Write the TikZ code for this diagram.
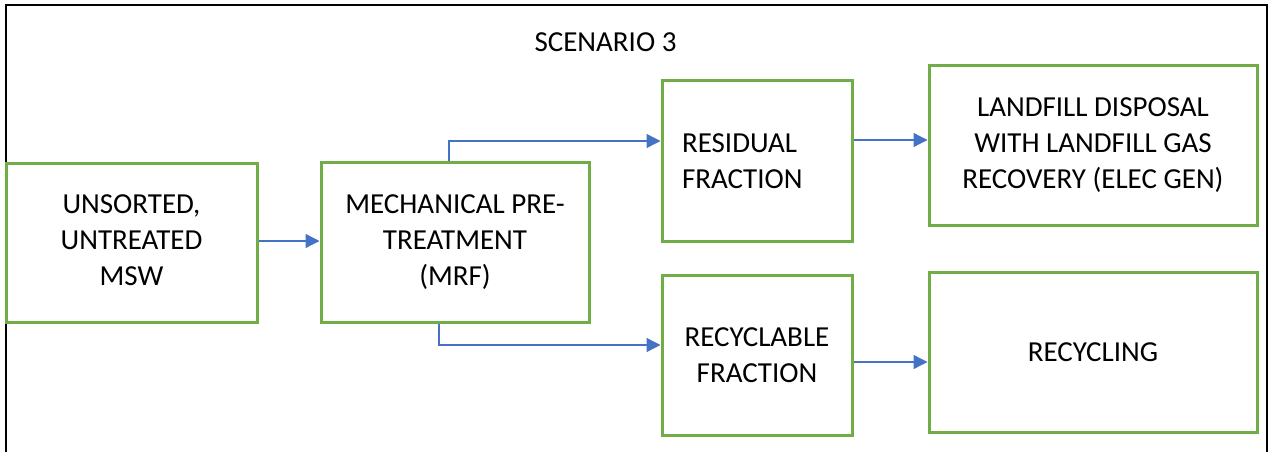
\documentclass[tikz,border=0pt]{standalone}
\usepackage{fontspec}
\setmainfont{Carlito}
\usetikzlibrary{arrows.meta}
\definecolor{boxgreen}{HTML}{70AD47}
\definecolor{flowblue}{HTML}{4472C4}
\tikzset{
  stagebox/.style={draw=boxgreen, line width=3pt, fill=white, inner sep=0pt,
    align=center, font=\fontsize{29}{36}\selectfont},
  flow/.style={draw=flowblue, line width=1.3pt,
    -{Triangle[length=14pt,width=14pt]}},
}
\begin{document}
\begin{tikzpicture}[x=1pt,y=-1pt]
  \useasboundingbox (0,0) rectangle (1270,452);
  \begin{scope}
    \clip (0,0) rectangle (1270,452);
    % outer frame, running past the lower edge
    \draw[line width=2.4pt, black] (6,470) -- (6,5) -- (1267,5) -- (1267,470);
  \end{scope}

  \node[anchor=base, font=\fontsize{29}{36}\selectfont] (title) at (605.5,52) {SCENARIO 3};

  \node[stagebox, minimum width=251pt, minimum height=159pt] (msw) at (131.5,242.5)
    {\raisebox{-2pt}{\begin{tabular}{@{}c@{}}UNSORTED,\\UNTREATED\\MSW\end{tabular}}};
  \node[stagebox, minimum width=268pt, minimum height=160pt] (mrf) at (455,242)
    {\raisebox{-2pt}{\begin{tabular}{@{}c@{}}MECHANICAL PRE-\\TREATMENT\\(MRF)\end{tabular}}};
  \node[stagebox, minimum width=190pt, minimum height=160pt, align=left,
        text width=150pt, inner xsep=20pt] (res) at (757,161)
    {RESIDUAL\\FRACTION};
  \node[stagebox, minimum width=190pt, minimum height=160pt] (rec) at (757,355)
    {RECYCLABLE\\FRACTION};
  \node[stagebox, minimum width=328pt, minimum height=159pt] (land) at (1093,145.5)
    {LANDFILL DISPOSAL\\WITH LANDFILL GAS\\RECOVERY (ELEC GEN)};
  \node[stagebox, minimum width=328pt, minimum height=160pt] (recy) at (1093,352)
    {RECYCLING};

  % material flows
  \draw[flow] ([yshift=1.5pt]msw.east) -- ([yshift=1pt]mrf.west);
  \draw[flow] ([xshift=-6pt]mrf.north) |- ([yshift=20pt]res.west);
  \draw[flow] ([xshift=-16pt]mrf.south) |- ([yshift=10pt]rec.west);
  \draw[flow] ([yshift=21pt]res.east) -- ([yshift=21pt]res.east -| land.west);
  \draw[flow] ([yshift=-7pt]rec.east) -- ([yshift=-7pt]rec.east -| recy.west);
\end{tikzpicture}
\end{document}
